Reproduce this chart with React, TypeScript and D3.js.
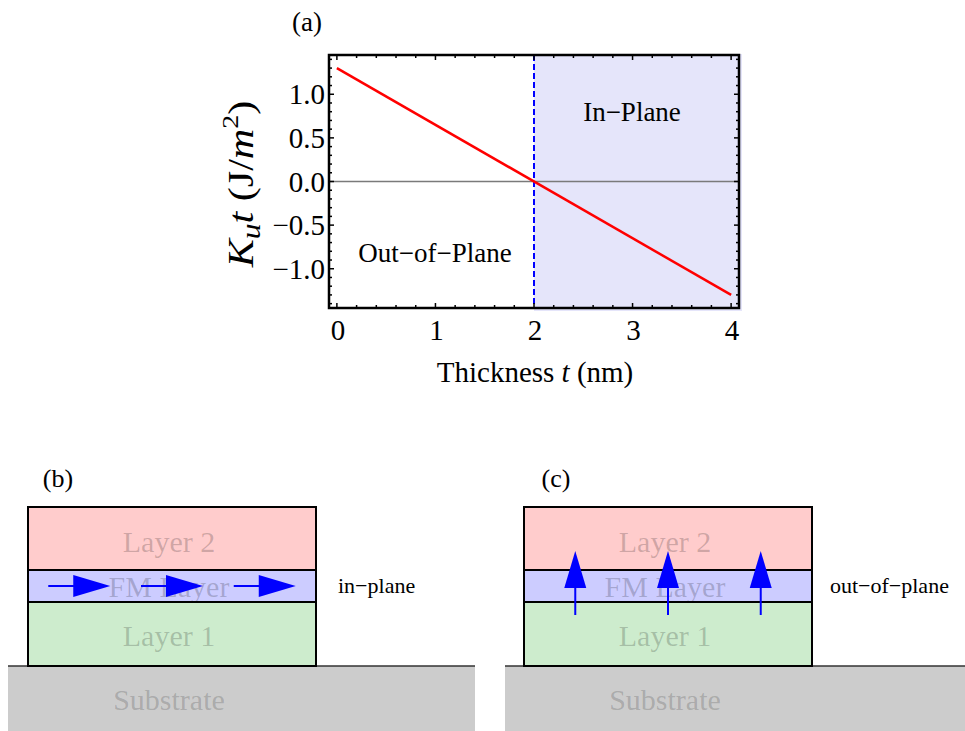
import React from "react";
import * as d3 from "d3";

// ---------- data ----------
const thickness = [0, 4];
const anisotropy = [1.3, -1.3];
const criticalThickness = 2;
const xMajorTicks = [0, 1, 2, 3, 4];
const yMajorTicks = [-1.0, -0.5, 0.0, 0.5, 1.0];
const xTickLabels = ["0", "1", "2", "3", "4"];
const yTickLabels = ["\u22121.0", "\u22120.5", "0.0", "0.5", "1.0"];
const regionLabels = ["Out\u2212of\u2212Plane", "In\u2212Plane"];
const layerNames = ["Layer 2", "FM Layer", "Layer 1"];
const layerColors = ["#ffcccc", "#ccccff", "#cdeccd"];
const arrowFractions = [0.178, 0.5, 0.822];
const panelLabels = ["(a)", "(b)", "(c)"];
const stateLabels = ["in\u2212plane", "out\u2212of\u2212plane"];

const FONT = "'Liberation Serif', 'Times New Roman', serif";

function range(a: number, b: number, step: number) {
  const out: number[] = [];
  for (let v = a; v <= b + 1e-9; v += step) out.push(Math.round(v * 1000) / 1000);
  return out;
}

function TopPlot() {
  const L = 329, R = 739, T = 55, B = 308;
  const x = d3.scaleLinear().domain([-0.08, 4.08]).range([L, R]);
  const y = d3.scaleLinear().domain([-1.45, 1.45]).range([B, T]);
  const xMinor = range(0, 4, 0.2).filter((v) => !xMajorTicks.includes(v));
  const yMinor = range(-1.4, 1.4, 0.1).filter(
    (v) => !yMajorTicks.some((m) => Math.abs(m - v) < 1e-6)
  );
  const line = d3
    .line<number>()
    .x((_, i) => x(thickness[i]))
    .y((d) => y(d));
  const maj = 5, min = 3;
  return (
    <g fontFamily={FONT}>
      {/* in-plane shading */}
      <rect x={x(criticalThickness)} y={T - 1} width={R + 3 - x(criticalThickness)} height={B - T + 4} fill="#e5e5fa" />
      {/* zero line */}
      <line x1={L} x2={R} y1={y(0)} y2={y(0)} stroke="#7a7a7a" strokeWidth={1.5} />
      {/* critical thickness */}
      <line x1={x(criticalThickness)} x2={x(criticalThickness)} y1={T} y2={B} stroke="#0000ff" strokeWidth={2} strokeDasharray="6,3" />
      {/* data line */}
      <path d={line(anisotropy) || ""} fill="none" stroke="#ff0000" strokeWidth={2.5} />
      {/* ticks */}
      {xMajorTicks.map((v) => (
        <g key={"xm" + v}>
          <line x1={x(v)} x2={x(v)} y1={B} y2={B - maj} stroke="#000" strokeWidth={1.5} />
          <line x1={x(v)} x2={x(v)} y1={T} y2={T + maj} stroke="#000" strokeWidth={1.5} />
        </g>
      ))}
      {xMinor.map((v) => (
        <g key={"xn" + v}>
          <line x1={x(v)} x2={x(v)} y1={B} y2={B - min} stroke="#000" strokeWidth={1.5} />
          <line x1={x(v)} x2={x(v)} y1={T} y2={T + min} stroke="#000" strokeWidth={1.5} />
        </g>
      ))}
      {yMajorTicks.map((v) => (
        <g key={"ym" + v}>
          <line x1={L} x2={L + maj} y1={y(v)} y2={y(v)} stroke="#000" strokeWidth={1.5} />
          <line x1={R} x2={R - maj} y1={y(v)} y2={y(v)} stroke="#000" strokeWidth={1.5} />
        </g>
      ))}
      {yMinor.map((v) => (
        <g key={"yn" + v}>
          <line x1={L} x2={L + min} y1={y(v)} y2={y(v)} stroke="#000" strokeWidth={1.5} />
          <line x1={R} x2={R - min} y1={y(v)} y2={y(v)} stroke="#000" strokeWidth={1.5} />
        </g>
      ))}
      {/* frame */}
      <rect x={L} y={T} width={R - L} height={B - T} fill="none" stroke="#000" strokeWidth={2.5} />
      {/* tick labels */}
      {xMajorTicks.map((v, i) => (
        <text key={"xl" + v} x={x(v) + 1} y={340} fontSize={29} textAnchor="middle" fill="#000">
          {xTickLabels[i]}
        </text>
      ))}
      {yMajorTicks.map((v, i) => (
        <text key={"yl" + v} x={325} y={y(v) + 10} fontSize={29} textAnchor="end" fill="#000">
          {yTickLabels[i]}
        </text>
      ))}
      {/* axis labels */}
      <text x={535} y={382} fontSize={29} textAnchor="middle" fill="#000">
        Thickness <tspan fontStyle="italic">t</tspan> (nm)
      </text>
      <text transform="translate(253,184) rotate(-90) scale(1.17,1)" fontSize={36} textAnchor="middle" fill="#000">
        <tspan fontStyle="italic">K</tspan>
        <tspan fontStyle="italic" fontSize={27} dy={7}>u</tspan>
        <tspan fontStyle="italic" dy={-7}>t</tspan>
        <tspan> (J/</tspan>
        <tspan fontStyle="italic">m</tspan>
        <tspan fontSize={24} dy={-15}>2</tspan>
        <tspan dy={15}>)</tspan>
      </text>
      {/* region labels */}
      <text x={435} y={262} fontSize={27} textAnchor="middle" fill="#000">{regionLabels[0]}</text>
      <text x={632} y={121} fontSize={27} textAnchor="middle" fill="#000">{regionLabels[1]}</text>
      <text x={307} y={31} fontSize={27} textAnchor="middle" fill="#000">{panelLabels[0]}</text>
    </g>
  );
}

function Stack({
  left, subLeft, subRight, label, labelX, state, stateX, vertical,
}: {
  left: number; subLeft: number; subRight: number; label: string; labelX: number;
  state: string; stateX: number; vertical: boolean;
}) {
  const width = 288;
  const edges = [507, 570, 602, 666];
  const sx = d3.scaleLinear().domain([0, 1]).range([left, left + width]);
  const bottom = 731;
  const textBase = [552, 597, 646];
  const fmMid = (edges[1] + edges[2]) / 2;
  const headLen = 37, headHalf = 11;
  return (
    <g fontFamily={FONT}>
      {/* substrate */}
      <rect x={subLeft} y={edges[3]} width={subRight - subLeft} height={bottom - edges[3]} fill="#cccccc" />
      <line x1={subLeft} x2={subRight} y1={edges[3]} y2={edges[3]} stroke="#333" strokeWidth={1.5} />
      <text x={sx(0.5) - 3} y={710} fontSize={30} textAnchor="middle" fill="#000" fillOpacity={0.18}>Substrate</text>
      {/* layers */}
      {layerNames.map((n, i) => (
        <rect key={n} x={left} y={edges[i]} width={width} height={edges[i + 1] - edges[i]} fill={layerColors[i]} stroke="#000" strokeWidth={2} />
      ))}
      {layerNames.map((n, i) => (
        <text key={"t" + n} x={sx(0.5) - 3} y={textBase[i]} fontSize={30} textAnchor="middle" fill="#000" fillOpacity={0.2}>
          {n}
        </text>
      ))}
      {/* arrows */}
      {arrowFractions.map((f, i) => {
        const cx = sx(f);
        if (!vertical) {
          const x1 = cx - 31, x2 = cx + 31;
          return (
            <g key={i}>
              <line x1={x1} x2={x2 - headLen + 2} y1={fmMid} y2={fmMid} stroke="#0000ff" strokeWidth={2} />
              <polygon points={`${x2},${fmMid} ${x2 - headLen},${fmMid - headHalf} ${x2 - headLen},${fmMid + headHalf}`} fill="#0000ff" />
            </g>
          );
        }
        const y1 = 615, y2 = 551;
        return (
          <g key={i}>
            <line x1={cx} x2={cx} y1={y1} y2={y2 + headLen - 2} stroke="#0000ff" strokeWidth={2} />
            <polygon points={`${cx},${y2} ${cx - headHalf},${y2 + headLen} ${cx + headHalf},${y2 + headLen}`} fill="#0000ff" />
          </g>
        );
      })}
      <text x={labelX} y={487} fontSize={26} textAnchor="middle" fill="#000">{label}</text>
      <text x={stateX} y={593} fontSize={22} fill="#000">{state}</text>
    </g>
  );
}

export default function App() {
  return (
    <svg width={965} height={731} style={{ position: "absolute", left: 0, top: 0, background: "#fff" }}>
      <rect x={0} y={0} width={965} height={731} fill="#fff" />
      <TopPlot />
      <Stack left={28} subLeft={8} subRight={475} label={panelLabels[1]} labelX={58} state={stateLabels[0]} stateX={338} vertical={false} />
      <Stack left={524} subLeft={505} subRight={965} label={panelLabels[2]} labelX={556} state={stateLabels[1]} stateX={830} vertical={true} />
    </svg>
  );
}
